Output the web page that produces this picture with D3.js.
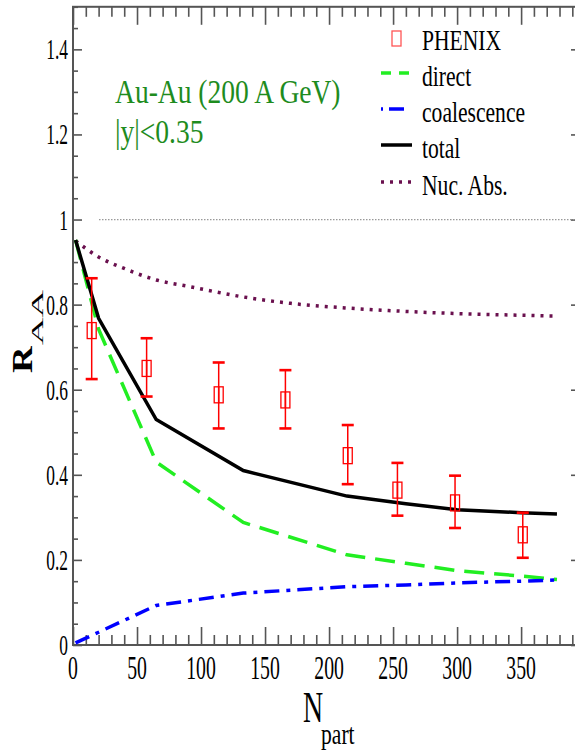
<!DOCTYPE html>
<html><head><meta charset="utf-8">
<script src="https://cdn.jsdelivr.net/npm/d3@7"></script>
<style>body{margin:0;background:#fff}svg{display:block}text{font-family:"Liberation Serif","Times New Roman",serif}</style>
</head><body>
<script>
// ---- data ----
const xTicks = [0,50,100,150,200,250,300,350];
const yTicks = [0,0.2,0.4,0.6,0.8,1,1.2,1.4];
const yTickLabels = ["0","0.2","0.4","0.6","0.8","1","1.2","1.4"];
const phenixN   = [14.6, 57.5, 113.8, 165.9, 214.6, 253.4, 298.4, 351.3];
const phenixR   = [0.739, 0.650, 0.588, 0.576, 0.445, 0.364, 0.334, 0.259];
const phenixHi  = [0.862, 0.721, 0.664, 0.646, 0.517, 0.428, 0.398, 0.311];
const phenixLo  = [0.625, 0.584, 0.509, 0.509, 0.378, 0.304, 0.275, 0.205];
const directN   = [2, 20, 65, 133, 214, 260, 300, 350, 378];
const directR   = [0.952, 0.742, 0.430, 0.288, 0.212, 0.192, 0.175, 0.162, 0.154];
const coalN     = [2, 20, 65, 133, 214, 260, 300, 350, 378];
const coalR     = [0.005, 0.030, 0.093, 0.122, 0.137, 0.141, 0.146, 0.150, 0.153];
const totalN    = [2, 20, 65, 133, 214, 260, 300, 350, 378];
const totalR    = [0.952, 0.768, 0.530, 0.410, 0.350, 0.332, 0.318, 0.311, 0.308];
const nucN      = [2, 20, 40, 65, 90, 133, 170, 214, 260, 300, 350, 378];
const nucR      = [0.950, 0.912, 0.885, 0.858, 0.843, 0.818, 0.803, 0.792, 0.784, 0.779, 0.775, 0.773];
const legendNames = ["PHENIX","direct","coalescence","total","Nuc. Abs."];
const annotation = ["Au-Au (200 A GeV)", "|y|<0.35"];

const W = 575, H = 750;
const svg = d3.select("body").append("svg").attr("width", W).attr("height", H);
const x = d3.scaleLinear().domain([0, 396]).range([73, 580]);
const y = d3.scaleLinear().domain([0, 1.5]).range([645, 6.8]);

function txt(px, py, s, size, sx, anchor, fill, extra) {
  return svg.append("text")
    .attr("transform", `translate(${px},${py}) scale(${sx},1)` + (extra||""))
    .attr("font-size", size).attr("fill", fill || "#000")
    .attr("text-anchor", anchor || "start").text(s);
}

// frame
const axCol = "#555";
svg.append("rect").attr("x", 73).attr("y", y(1.5)).attr("width", x(396)-73).attr("height", 645-y(1.5))
  .attr("fill","none").attr("stroke", axCol).attr("stroke-width", 2);

// ticks via d3 axes (inward)
const xMinor = d3.range(0, 400, 10).filter(v => v % 50 !== 0);
const yMinor = d3.range(0, 1.5001, 0.05).map(v => +v.toFixed(2)).filter(v => Math.abs(v*5 - Math.round(v*5)) > 1e-6);
function ax(gen, tr) { const g = svg.append("g").attr("transform", tr).call(gen); g.select(".domain").remove(); g.selectAll("line").attr("stroke", axCol).attr("stroke-width", 1.6); g.selectAll("text").remove(); }
ax(d3.axisBottom(x).tickValues(xTicks).tickSize(-18).tickFormat(""), "translate(0,645)");
ax(d3.axisBottom(x).tickValues(xMinor).tickSize(-10).tickFormat(""), "translate(0,645)");
ax(d3.axisTop(x).tickValues(xTicks).tickSize(-18).tickFormat(""), `translate(0,${y(1.5)})`);
ax(d3.axisTop(x).tickValues(xMinor).tickSize(-10).tickFormat(""), `translate(0,${y(1.5)})`);
ax(d3.axisLeft(y).tickValues(yTicks).tickSize(-9).tickFormat(""), "translate(73,0)");
ax(d3.axisLeft(y).tickValues(yMinor).tickSize(-5).tickFormat(""), "translate(73,0)");
ax(d3.axisRight(y).tickValues(yTicks).tickSize(-9).tickFormat(""), `translate(${x(396)},0)`);
ax(d3.axisRight(y).tickValues(yMinor).tickSize(-5).tickFormat(""), `translate(${x(396)},0)`);

// tick labels
yTicks.forEach((v,i) => txt(68, y(v)+10, yTickLabels[i], 29, 0.6, "end"));
xTicks.forEach(v => txt(x(v), 679, String(v), 34, 0.58, "middle"));

// axis titles
txt(303, 722, "N", 45, 0.62, "start");
txt(321, 744, "part", 30, 0.72, "start");
txt(32, 373, "R", 37, 0.78, "start", "#000", " rotate(-90)").attr("font-weight", "bold");
txt(43, 345, "AA", 38, 0.46, "start", "#000", " rotate(-90)");

// reference line at 1
svg.append("line").attr("x1", 99).attr("x2", x(396)).attr("y1", y(1)).attr("y2", y(1))
  .attr("stroke", "#999").attr("stroke-width", 1.2).attr("stroke-dasharray", "1.5,1.5");

// curves
const line = d3.line().x(d => x(d[0])).y(d => y(d[1]));
const styles = {
  direct: {col: "#22ee22", dash: "20,10", w: 3.5},
  coal:   {col: "#0000ff", dash: "15,7,4,7", w: 3.5},
  total:  {col: "#000000", dash: null, w: 3.5},
  nuc:    {col: "#6a104e", dash: "3,6", w: 3.5}
};
function drawCurve(N, R, st, curve) {
  svg.append("path").datum(d3.zip(N, R))
    .attr("d", line.curve(curve || d3.curveLinear))
    .attr("fill", "none").attr("stroke", st.col).attr("stroke-width", st.w)
    .attr("stroke-dasharray", st.dash);
}
drawCurve(nucN, nucR, styles.nuc, d3.curveMonotoneX);
drawCurve(directN, directR, styles.direct);
drawCurve(coalN, coalR, styles.coal);
drawCurve(totalN, totalR, styles.total);

// PHENIX points
const red = "#ff0000";
phenixN.forEach((n,i) => {
  const cx = x(n);
  svg.append("line").attr("x1", cx).attr("x2", cx).attr("y1", y(phenixHi[i])).attr("y2", y(phenixR[i])+8).attr("stroke", red).attr("stroke-width", 1.5);
  svg.append("line").attr("x1", cx).attr("x2", cx).attr("y1", y(phenixR[i])-8).attr("y2", y(phenixLo[i])).attr("stroke", red).attr("stroke-width", 1.5);
  [phenixHi[i], phenixLo[i]].forEach(v => svg.append("line").attr("x1", cx-6).attr("x2", cx+6).attr("y1", y(v)).attr("y2", y(v)).attr("stroke", red).attr("stroke-width", 2.6));
  svg.append("rect").attr("x", cx-4.5).attr("y", y(phenixR[i])-8).attr("width", 9).attr("height", 16)
    .attr("fill", "none").attr("stroke", red).attr("stroke-width", 1.3);
});

// annotation
txt(115, 103, annotation[0], 34, 0.81, "start", "#1e8c1e");
txt(115, 143, annotation[1], 34, 0.81, "start", "#1e8c1e");

// legend
const lgBase = [50, 86, 122, 158, 195];
legendNames.forEach((s,i) => txt(422, lgBase[i], s, 30, 0.72, "start"));
svg.append("rect").attr("x", 392).attr("y", 31).attr("width", 9).attr("height", 15)
  .attr("fill", "none").attr("stroke", "#ff5555").attr("stroke-width", 1.3);
const lgStyles = [null, {col:"#22ee22", dash:"10,8", w:3.5}, {col:"#0000ff", dash:"2,6,15,30", w:3.5}, styles.total, styles.nuc];
lgStyles.forEach((st,i) => {
  if (!st) return;
  svg.append("line").attr("x1", 381).attr("x2", 412).attr("y1", lgBase[i]-13).attr("y2", lgBase[i]-13)
    .attr("stroke", st.col).attr("stroke-width", st.w).attr("stroke-dasharray", st.dash);
});
</script>
</body></html>
